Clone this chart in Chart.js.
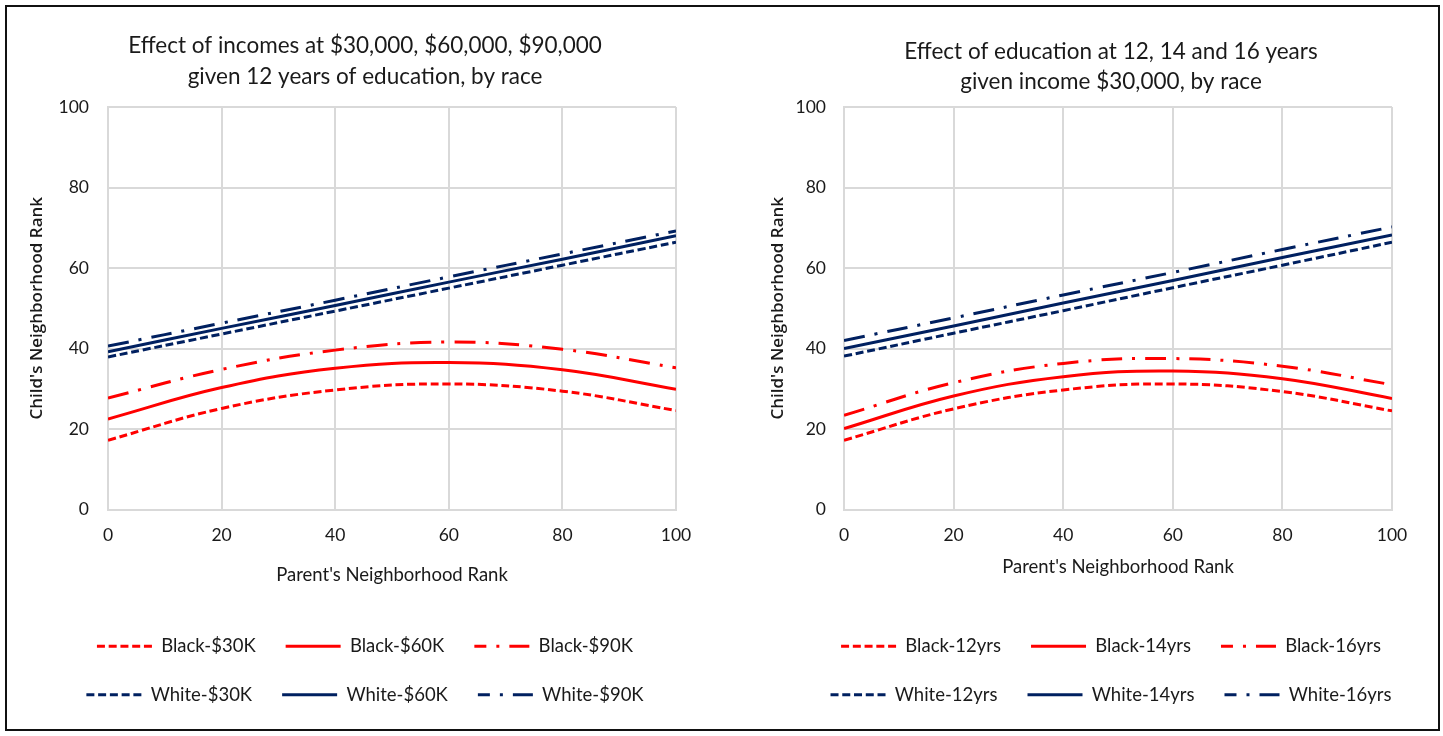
<!DOCTYPE html>
<html>
<head>
<meta charset="utf-8">
<title>Child's vs parent's neighborhood rank, by race</title>
<script src="https://cdn.jsdelivr.net/npm/chart.js@4.4.1/dist/chart.umd.min.js"></script>
<style>
  html, body { margin: 0; padding: 0; background: #fff; }
  #frame {
    position: absolute; left: 5px; top: 5px;
    width: 1435px; height: 726px;
    box-sizing: border-box;
    border: 2px solid #111;
    overflow: hidden;
    background: #fff;
  }
  #frame canvas { position: absolute; top: 3px; }
  #incomeChart    { left: 3px; }
  #educationChart { left: 718px; }
</style>
</head>
<body>
<div id="frame">
  <canvas id="incomeChart" width="710" height="715"></canvas>
  <canvas id="educationChart" width="772" height="715"></canvas>
</div>
<script>
// ── DATA ─────────────────────────────────────────
const parentRank = [0, 20, 40, 60, 80, 100];
const rankTicks  = [0, 20, 40, 60, 80, 100];

const incomeNames = ['Black-$30K', 'Black-$60K', 'Black-$90K', 'White-$30K', 'White-$60K', 'White-$90K'];
const black30K = [17.2, 25.1, 29.7, 31.2, 29.4, 24.6];
const black60K = [22.5, 30.3, 35.1, 36.5, 34.7, 29.9];
const black90K = [27.7, 34.8, 39.6, 41.6, 39.8, 35.2];
const white30K = [37.9, 43.6, 49.3, 55.0, 60.7, 66.4];
const white60K = [39.2, 45.0, 50.7, 56.5, 62.2, 68.0];
const white90K = [40.6, 46.3, 52.0, 57.8, 63.5, 69.2];

const educationNames = ['Black-12yrs', 'Black-14yrs', 'Black-16yrs', 'White-12yrs', 'White-14yrs', 'White-16yrs'];
const black12yrs = [17.2, 25.0, 29.7, 31.2, 29.3, 24.5];
const black14yrs = [20.1, 28.2, 33.0, 34.4, 32.5, 27.6];
const black16yrs = [23.4, 31.5, 36.3, 37.5, 35.6, 31.0];
const white12yrs = [38.1, 43.8, 49.4, 55.1, 60.7, 66.4];
const white14yrs = [40.0, 45.6, 51.3, 56.9, 62.6, 68.2];
const white16yrs = [42.0, 47.6, 53.3, 58.9, 64.6, 70.2];

// ── STYLE ────────────────────────────────────────
const TEXT = '#1a1a1a';
const GRID = '#d9d9d9';
const RED  = '#ff0000';
const NAVY = '#002060';
const DASHES = [[8, 3.75], [], [21, 10, 3, 10]];   // dashed, solid, long dash-dot

const tickFont  = { family: 'Lato', size: 17.5 };
const labelFont = { family: 'Lato', size: 18.5 };

function makeDatasets(names, series) {
  return names.map((label, i) => ({
    label,
    data: parentRank.map((x, j) => ({ x, y: series[i][j] })),
    borderColor: i < 3 ? RED : NAVY,
    backgroundColor: i < 3 ? RED : NAVY,
    borderDash: DASHES[i % 3],
    borderWidth: 3,
    pointRadius: 0,
    tension: 0.4,
    fill: false,
  }));
}

// point-style legend items take the point's style, so copy the line dash back in
function legendLabels(chart) {
  const items = Chart.defaults.plugins.legend.labels.generateLabels(chart);
  items.forEach(it => {
    const ds = chart.data.datasets[it.datasetIndex];
    it.lineDash = ds.borderDash;
    it.lineWidth = ds.borderWidth;
    it.strokeStyle = ds.borderColor;
    it.lineDashOffset = ds.borderDash.length === 4 ? 9 : 0;
  });
  return items;
}

// ── SHARED OPTIONS ───────────────────────────────
function makeOptions(o) {
  return {
    responsive: false,
    animation: false,
    layout: { padding: { left: 0, top: 0, right: 0, bottom: 11 } },
    plugins: {
      title: {
        display: true,
        text: o.title,
        color: TEXT,
        font: { family: 'Lato', size: 22.5, weight: 'normal', lineHeight: 1.356 },
        padding: { top: o.titleTop, bottom: 97 - o.titleTop - 61 },
      },
      legend: {
        position: 'bottom',
        labels: {
          color: TEXT,
          font: labelFont,
          usePointStyle: true,
          pointStyle: 'line',
          pointStyleWidth: 55,
          padding: 30,
          generateLabels: legendLabels,
        },
      },
      tooltip: { enabled: false },
    },
    scales: {
      x: {
        type: 'linear',
        min: 0,
        max: 100,
        afterBuildTicks: s => { s.ticks = rankTicks.map(v => ({ value: v })); },
        afterFit: s => { s.height = 97.5; },
        grid:   { color: GRID, lineWidth: 2, drawTicks: false },
        border: { color: GRID, width: 2 },
        ticks:  { color: TEXT, font: tickFont, padding: 15.7 },
        title: {
          display: true,
          text: "Parent's Neighborhood Rank",
          color: TEXT,
          font: labelFont,
          padding: { top: 0, bottom: o.xTitleBottom },
        },
      },
      y: {
        type: 'linear',
        min: 0,
        max: 100,
        afterBuildTicks: s => { s.ticks = rankTicks.map(v => ({ value: v })); },
        afterFit: s => { s.width = o.yWidth; },
        grid:   { color: GRID, lineWidth: 2, drawTicks: false },
        border: { color: GRID, width: 2 },
        ticks:  { color: TEXT, font: tickFont, padding: o.yTickPad },
        title: {
          display: true,
          text: "Child's Neighborhood Rank",
          color: TEXT,
          font: { family: 'Open Sans', size: 17, weight: '600' },
          padding: { top: o.yTitleTop, bottom: 0 },
        },
      },
      // empty right-hand strip so the title and legend centre like the original
      spacer: {
        position: 'right',
        display: true,
        grid:   { display: false },
        border: { display: false },
        ticks:  { display: false },
        afterFit: s => { s.width = o.spacer; },
      },
    },
  };
}

// ── INCOME CHART ─────────────────────────────────
new Chart(document.getElementById('incomeChart'), {
  type: 'line',
  data: {
    datasets: makeDatasets(incomeNames, [black30K, black60K, black90K, white30K, white60K, white90K]),
  },
  options: makeOptions({
    title: ['Effect of incomes at $30,000, $60,000, $90,000', 'given 12 years of education, by race'],
    titleTop: 20.5,
    yWidth: 98,
    yTickPad: 19,
    yTitleTop: 16.8,
    xTitleBottom: 21.2,
    spacer: 44,
  }),
});

// ── EDUCATION CHART ──────────────────────────────
new Chart(document.getElementById('educationChart'), {
  type: 'line',
  data: {
    datasets: makeDatasets(educationNames, [black12yrs, black14yrs, black16yrs, white12yrs, white14yrs, white16yrs]),
  },
  options: makeOptions({
    title: ['Effect of education at 12, 14 and 16 years', 'given income $30,000, by race'],
    titleTop: 26,
    yWidth: 119,
    yTickPad: 18,
    yTitleTop: 42.8,
    xTitleBottom: 29.2,
    spacer: 105,
  }),
});
</script>
</body>
</html>
